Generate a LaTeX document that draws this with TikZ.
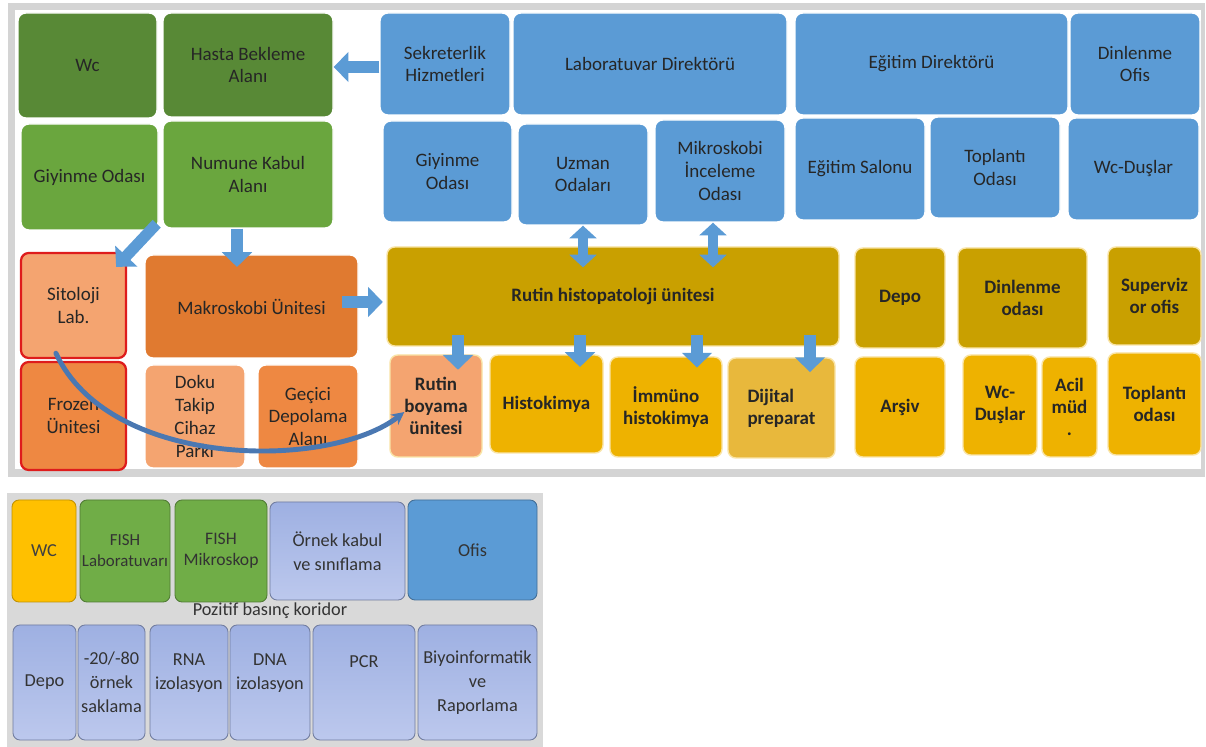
\documentclass[tikz,border=0pt]{standalone}
\usepackage{fontspec}
\setmainfont{Carlito}
\usetikzlibrary{arrows.meta}

\definecolor{labdkgreen}{RGB}{88,137,54}
\definecolor{labgreen}{RGB}{106,166,62}
\definecolor{labblue}{RGB}{91,155,213}
\definecolor{labgold}{RGB}{201,160,0}
\definecolor{labgoldlt}{RGB}{238,178,0}
\definecolor{labgoldpale}{RGB}{232,184,60}
\definecolor{laborange}{RGB}{224,122,48}
\definecolor{laborangemd}{RGB}{238,136,66}
\definecolor{labpeach}{RGB}{244,164,112}
\definecolor{labred}{RGB}{222,28,28}
\definecolor{labcurve}{RGB}{74,120,178}
\definecolor{labframe}{RGB}{212,212,212}
\definecolor{labpanel}{RGB}{217,217,217}
\definecolor{lablav}{RGB}{158,176,226}
\definecolor{lablavlt}{RGB}{188,200,237}
\definecolor{labfish}{RGB}{112,173,71}
\definecolor{labwc}{RGB}{255,192,0}

\newcommand\lifted[2]{\raisebox{#1}[\height][\depth]{\begin{tabular}{@{}c@{}}#2\end{tabular}}}

\begin{document}
\begin{tikzpicture}[x=.025cm,y=-.025cm,
    corners/.style n args={4}{minimum width={(#3-#1)*.025cm},
      minimum height={(#4-#2)*.025cm},at={({(#1+#3)/2},{(#2+#4)/2})}},
    room/.style={rectangle,rounded corners=5.5pt,draw=white,line width=1pt,
      align=center,inner sep=1pt,text=black!85,
      font=\fontsize{13.5}{16.3}\selectfont},
    boldroom/.style={room,draw=labgoldlt!35,font=\fontsize{13.5}{15.6}\selectfont\bfseries},
    lab/.style={rectangle,rounded corners=5pt,draw=#1,line width=.6pt,
      align=center,inner sep=1pt,text=black!80,font=\fontsize{13}{17}\selectfont},
    blockarrow/.style={labblue,line width=8pt,-{Triangle[width=21pt,length=10.5pt]}},
    twoway/.style={labblue,line width=7pt,
      {Triangle[width=19pt,length=9pt]}-{Triangle[width=19pt,length=9pt]}}]
  \useasboundingbox (0,0) rectangle (1206,747);
  % ust plan
  \fill[labframe] (8,3) rectangle (1205,477);
  \fill[white] (15,10) rectangle (1201,469);
  \foreach \nm/\xa/\ya/\xb/\yb/\col/\txt in {
      wc/18/13/157/118/labdkgreen/Wc,
      hasta/163/13/333/117/labdkgreen/{Hasta Bekleme\\Alanı},
      giyg/21/124/158/230/labgreen/Giyinme Odası,
      numune/163/121/333/228/labgreen/{Numune Kabul\\Alanı},
      sekr/380/13/510/115/labblue/{Sekreterlik\\Hizmetleri},
      labdir/513/13/787/115/labblue/Laboratuvar Direktörü,
      egdir/795/13/1068/115/labblue/Eğitim Direktörü,
      dinofis/1070/13/1200/115/labblue/{Dinlenme\\Ofis},
      giyb/383/121/512/222/labblue/{Giyinme\\Odası},
      uzman/518/124/648/225/labblue/{Uzman\\Odaları},
      mikro/655/120/785/222/labblue/{Mikroskobi\\İnceleme\\Odası},
      egsal/795/118/925/220/labblue/Eğitim Salonu,
      toplb/930/117/1060/218/labblue/{Toplantı\\Odası},
      wcdb/1068/118/1199/220/labblue/Wc-Duşlar,
      makro/145/255/358/358/laborange/Makroskobi Ünitesi,
      doku/145/365/245/468/labpeach/{Doku\\Takip\\Cihaz\\Parkı},
      gecici/258/365/358/468/laborangemd/{Geçici\\Depolama\\Alanı}}
    \node[room,fill=\col,corners={\xa}{\ya}{\xb}{\yb}] (\nm) {\txt};
  \node[room,fill=labpeach,draw=labred,line width=1.6pt,corners={21}{253}{126}{358}] (sito) {Sitoloji\\Lab.};
  \node[room,fill=laborangemd,draw=labred,line width=1.6pt,corners={21}{362}{126}{470}] (frozen) {Frozen\\Ünitesi};
  \foreach \nm/\xa/\ya/\xb/\yb/\col/\txt in {
      rutin/387/247/839/346/labgold/Rutin histopatoloji ünitesi,
      depo/855/248/945/348/labgold/Depo,
      dinoda/958/248/1087/348/labgold/{Dinlenme\\odası},
      superviz/1108/247/1201/345/labgold/{Superviz\\or ofis},
      boya/390/355/482/457/labpeach/{Rutin\\boyama\\ünitesi},
      histo/490/355/603/453/labgoldlt/Histokimya,
      immuno/610/357/722/457/labgoldlt/{İmmüno\\histokimya},
      arsiv/855/357/945/457/labgoldlt/Arşiv,
      wcdg/963/355/1037/455/labgoldlt/{Wc-\\Duşlar},
      acil/1042/357/1097/457/labgoldlt/{Acil\\müd\\.},
      topl/1108/353/1201/455/labgoldlt/{Toplantı\\odası}}
    \node[boldroom,fill=\col,corners={\xa}{\ya}{\xb}{\yb}] (\nm) {\txt};
  \node[boldroom,fill=labgoldpale,align=left,corners={728}{358}{835}{458}] (dijital) {Dijital\\preparat};

  % akis oklari
  \draw[blockarrow] (sekr.west |- 0,67) -- (hasta.east |- 0,67);
  \draw[blockarrow] ([shift={(-2,-7)}]giyg.south east) -- ([shift={(-11,15)}]sito.north east);
  \draw[blockarrow,shorten >=-9pt] (numune.south -| 237,0) -- (makro.north -| 237,0);
  \draw[blockarrow,shorten <=-12pt,shorten >=2.5pt] (makro.east |- 0,302) -- (rutin.west |- 0,302);
  \draw[twoway,shorten >=-15pt] (uzman.south -| 583,0) -- (rutin.north -| 583,0);
  \draw[twoway,shorten >=-15pt] (mikro.south -| 713,0) -- (rutin.north -| 713,0);
  \foreach \tgt/\xc/\over in {boya/458/11,histo/580/9,immuno/697/8,dijital/810/10.5}
    \draw[blockarrow,shorten <=-8pt,shorten >=-\over pt] (rutin.south -| \xc,0) -- (\tgt.north -| \xc,0);
  \draw[labcurve,line width=3.5pt,line cap=round,-{Stealth[length=9pt,width=9pt]}]
    ([shift={(36,-6)}]sito.south west) .. controls (110,470) and (330,470) .. ([shift={(15,6)}]boya.west);

  % alt plan: moleküler birim
  \fill[labpanel] (7,493) rectangle (543,747);
  \node[lab=labwc!75!black,fill=labwc,text=black!75,corners={12}{500}{76}{602}] (wcm) {WC};
  \node[lab=labfish!70!black,fill=labfish,font=\fontsize{12}{15}\selectfont,corners={80}{500}{170}{602}] (fishlab) {FISH\\Laboratuvarı};
  \node[lab=labfish!70!black,fill=labfish,font=\fontsize{12.5}{15}\selectfont,corners={175}{500}{267}{602}] (fishmik) {FISH\\Mikroskop};
  \node[lab=lablav!70!black,top color=lablav,bottom color=lablavlt,corners={270}{502}{405}{600}] (ornek) {Örnek kabul\\ve sınıflama};
  \node[lab=labblue!70!black,fill=labblue,corners={408}{500}{537}{600}] (ofis) {Ofis};
  \node[font=\fontsize{13}{15}\selectfont,text=black!80] (koridor) at (270,611) {Pozitif basınç koridor};
  \foreach \nm/\xa/\xb/\txt in {
      depom/13/76/Depo,
      saklama/78/145/{-20/-80\\örnek\\saklama},
      rna/150/228/{\lifted{7pt}{RNA\\izolasyon}},
      dna/230/310/{\lifted{7pt}{DNA\\izolasyon}},
      pcr/313/415/{\lifted{14pt}{PCR}},
      biyo/418/537/{Biyoinformatik\\ve\\Raporlama}}
    \node[lab=lablav!70!black,top color=lablav,bottom color=lablavlt,corners={\xa}{625}{\xb}{740}] (\nm) {\txt};
\end{tikzpicture}
\end{document}
